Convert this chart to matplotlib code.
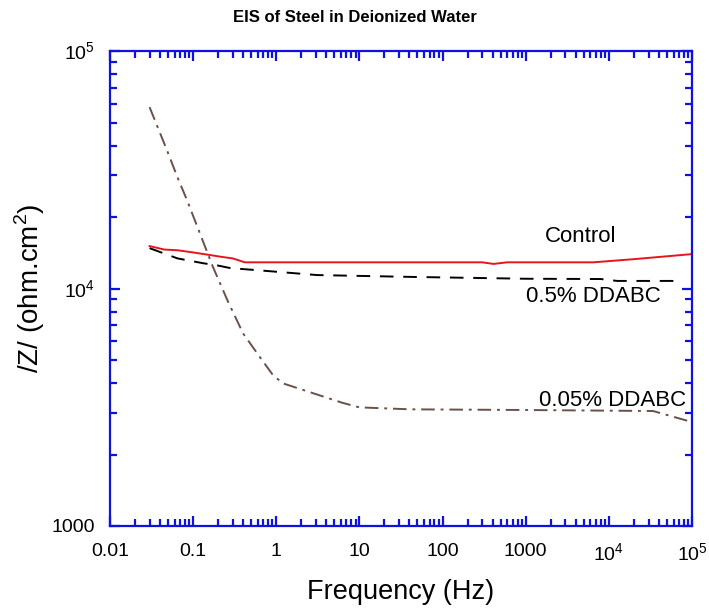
import matplotlib
matplotlib.use("Agg")
import matplotlib.pyplot as plt
from matplotlib.ticker import LogLocator, FixedLocator, FixedFormatter, NullFormatter

plt.rcParams['font.family'] = ['Liberation Sans', 'DejaVu Sans']
plt.rcParams['mathtext.fontset'] = 'custom'
plt.rcParams['mathtext.rm'] = 'Liberation Sans'

# data (frequency in Hz, |Z| in ohm.cm^2)
control_f = [0.03, 0.045, 0.065, 0.1, 0.13, 0.17, 0.22, 0.3, 0.42, 1, 10, 100, 300, 410, 600, 1000, 6500, 20000, 100000]
control_z = [15100, 14600, 14500, 14200, 14000, 13800, 13600, 13400, 12900, 12900, 12900, 12900, 12900, 12700, 12900, 12900, 12900, 13300, 13970]

ddabc05_f = [0.03, 0.065, 0.13, 0.2, 0.28, 0.69, 3.1, 41, 1000, 8000, 12600, 76000]
ddabc05_z = [14800, 13400, 12800, 12500, 12200, 11900, 11400, 11200, 11000, 10970, 10770, 10770]

ddabc005_f = [0.03, 0.0485, 0.065, 0.0845, 0.174, 0.26, 0.40, 0.64, 0.91, 1.2, 6.3, 10, 41, 1000, 34000, 100000]
ddabc005_z = [58100, 38300, 29400, 23600, 12300, 8900, 6470, 5130, 4330, 3990, 3300, 3160, 3100, 3080, 3050, 2740]

series_labels = ['Control', '0.5% DDABC', '0.05% DDABC']
label_pos = [(4530, 16500), (6450, 9290), (11200, 3390)]

x_ticks = [0.01, 0.1, 1, 10, 100, 1000, 1e4, 1e5]
x_ticklabels = ['0.01', '0.1', '1', '10', '100', '1000', r'$10^4$', r'$10^5$']
y_ticks = [1000, 1e4, 1e5]
y_ticklabels = ['1000', r'$10^4$', r'$10^5$']

fig = plt.figure(figsize=(7.09, 6.09), dpi=100)
ax = fig.add_axes([0.155, 0.1363, 0.821, 0.7797])

ax.plot(control_f, control_z, color='#e8141b', lw=1.4)
ax.plot(ddabc05_f, ddabc05_z, color='black', lw=1.4, dashes=(7, 5))
ax.plot(ddabc005_f, ddabc005_z, color='#6b5049', lw=1.4, dashes=(7, 3, 1.5, 3))

ax.set_xscale('log')
ax.set_yscale('log')
ax.set_xlim(0.01, 1e5)
ax.set_ylim(1000, 1e5)

ax.xaxis.set_major_locator(FixedLocator(x_ticks))
ax.xaxis.set_major_formatter(FixedFormatter(x_ticklabels))
ax.xaxis.set_minor_locator(LogLocator(base=10, subs=range(2, 10), numticks=20))
ax.xaxis.set_minor_formatter(NullFormatter())
ax.yaxis.set_major_locator(FixedLocator(y_ticks))
ax.yaxis.set_major_formatter(FixedFormatter(y_ticklabels))
ax.yaxis.set_minor_locator(LogLocator(base=10, subs=range(2, 10), numticks=20))
ax.yaxis.set_minor_formatter(NullFormatter())

for s in ax.spines.values():
    s.set_color('#1010e0')
    s.set_linewidth(1.6)
ax.tick_params(which='both', direction='in', top=True, right=True,
               color='#1010e0', width=1.6, labelsize=14)
ax.tick_params(which='major', length=7.2)
ax.tick_params(which='minor', length=5)
ax.tick_params(axis='x', which='major', pad=12)
ax.tick_params(axis='y', which='major', pad=11)

for text, (fx, zy) in zip(series_labels, label_pos):
    ax.text(fx, zy, text, fontsize=16, ha='center', va='center')

ax.set_xlabel('Frequency (Hz)', fontsize=19.5, labelpad=10)
ax.set_ylabel(r'/Z/ (ohm.cm$^2$)', fontsize=20, labelpad=3)
fig.text(0.5, 1 - 18 / 609, 'EIS of Steel in Deionized Water', fontsize=12,
         fontweight='bold', ha='center', va='center')

fig.savefig('out.png', dpi=100)
